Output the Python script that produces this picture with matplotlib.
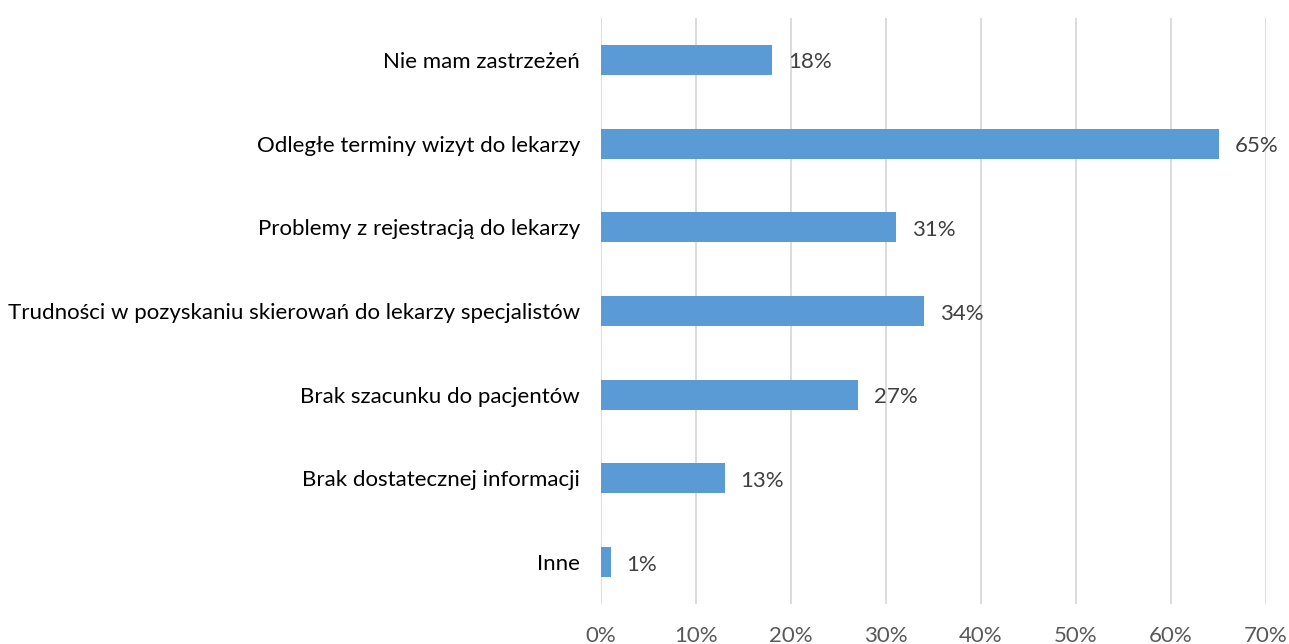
import matplotlib
matplotlib.use("Agg")
import matplotlib.pyplot as plt
from matplotlib.ticker import FuncFormatter

kategorie = ["Nie mam zastrzeżeń",
             "Odległe terminy wizyt do lekarzy",
             "Problemy z rejestracją do lekarzy",
             "Trudności w pozyskaniu skierowań do lekarzy specjalistów",
             "Brak szacunku do pacjentów",
             "Brak dostatecznej informacji",
             "Inne"]
wartosci = [18, 65, 31, 34, 27, 13, 1]
os_x = [0, 10, 20, 30, 40, 50, 60, 70]

plt.rcParams['font.family'] = ['Lato', 'DejaVu Sans']

fig = plt.figure(figsize=(12.89, 6.44), dpi=100)
ax = fig.add_axes([601/1289, 1-604/644, 665/1289, 586/644])

y = list(range(len(kategorie)))
ax.barh(y, wartosci, height=0.36, color="#5B9BD5", zorder=3)
for yi, v in zip(y, wartosci):
    ax.text(v + 1.7, yi + 0.03, "{0}%".format(v), va="center", ha="left",
            fontsize=16, color="#404040")

ax.set_yticks(y)
ax.set_yticklabels(kategorie, fontsize=16, color="#000000")
ax.set_ylim(len(kategorie) - 0.5, -0.5)
ax.set_xlim(0, 70)
ax.set_xticks(os_x)
ax.xaxis.set_major_formatter(FuncFormatter(lambda x, p: "{0:.0f}%".format(x)))
ax.tick_params(axis="x", labelsize=16, labelcolor="#595959", length=0, pad=16)
ax.tick_params(axis="y", length=0, pad=15)
ax.grid(axis="x", color="#D9D9D9", linewidth=1.3, zorder=0)
for s in ax.spines.values():
    s.set_visible(False)

fig.savefig("out.png", dpi=100)
